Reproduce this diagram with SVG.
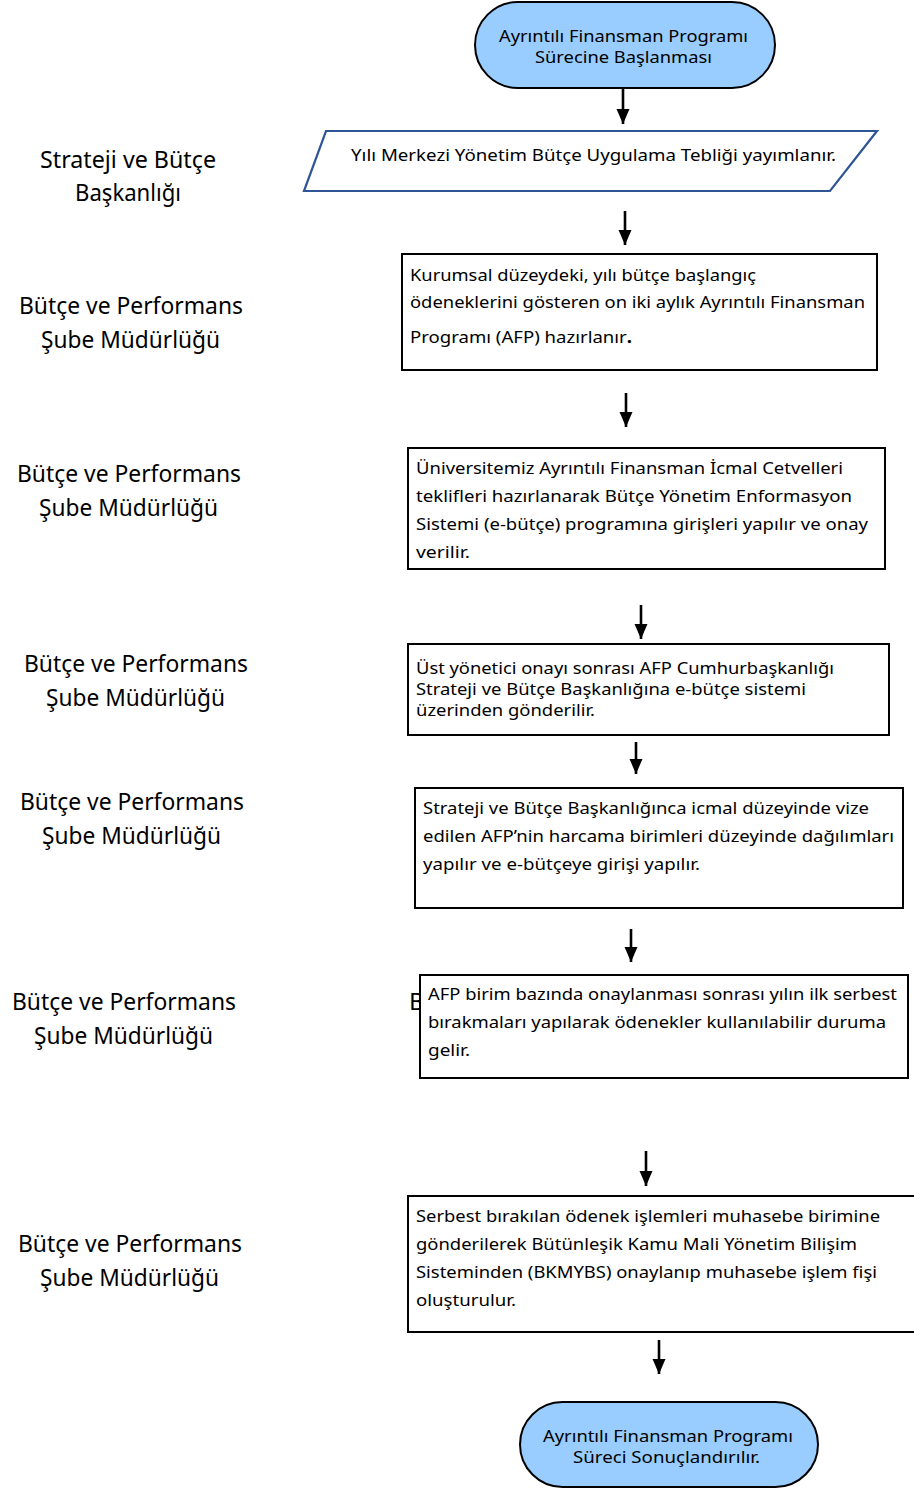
<svg xmlns="http://www.w3.org/2000/svg" width="914" height="1488" viewBox="0 0 914 1488">
<style>
text{font-family:"Noto Sans","Open Sans","Liberation Sans",sans-serif;fill:#000}
.t{font-size:17px}
.lbl{font-size:24px}
.term{fill:#99CCFF;stroke:#000;stroke-width:2}
.box{fill:#fff;stroke:#000;stroke-width:2}
.para{fill:#fff;stroke:#2F5597;stroke-width:2.2}
.c line{stroke:#000;stroke-width:2.6;marker-end:url(#ah)}
</style>
<defs>
<marker id="ah" markerUnits="userSpaceOnUse" markerWidth="15" markerHeight="15" viewBox="0 0 15 15" refX="15" refY="7.5" orient="auto">
<path d="M0,1 L15,7.5 L0,14 Z" fill="#000"/>
</marker>
</defs>
<rect width="914" height="1488" fill="#fff"/>

<g id="labels">
<text class="lbl" x="40" y="168" textLength="176" lengthAdjust="spacingAndGlyphs">Strateji ve Bütçe</text>
<text class="lbl" x="75" y="201" textLength="106" lengthAdjust="spacingAndGlyphs">Başkanlığı</text>
<text class="lbl" x="19" y="314" textLength="224" lengthAdjust="spacingAndGlyphs">Bütçe ve Performans</text>
<text class="lbl" x="41" y="348" textLength="179" lengthAdjust="spacingAndGlyphs">Şube Müdürlüğü</text>
<text class="lbl" x="17" y="482" textLength="224" lengthAdjust="spacingAndGlyphs">Bütçe ve Performans</text>
<text class="lbl" x="39" y="516" textLength="179" lengthAdjust="spacingAndGlyphs">Şube Müdürlüğü</text>
<text class="lbl" x="24" y="672" textLength="224" lengthAdjust="spacingAndGlyphs">Bütçe ve Performans</text>
<text class="lbl" x="46" y="706" textLength="179" lengthAdjust="spacingAndGlyphs">Şube Müdürlüğü</text>
<text class="lbl" x="20" y="810" textLength="224" lengthAdjust="spacingAndGlyphs">Bütçe ve Performans</text>
<text class="lbl" x="42" y="844" textLength="179" lengthAdjust="spacingAndGlyphs">Şube Müdürlüğü</text>
<text class="lbl" x="12" y="1010" textLength="224" lengthAdjust="spacingAndGlyphs">Bütçe ve Performans</text>
<text class="lbl" x="34" y="1044" textLength="179" lengthAdjust="spacingAndGlyphs">Şube Müdürlüğü</text>
<text class="lbl" x="18" y="1252" textLength="224" lengthAdjust="spacingAndGlyphs">Bütçe ve Performans</text>
<text class="lbl" x="40" y="1286" textLength="179" lengthAdjust="spacingAndGlyphs">Şube Müdürlüğü</text>
<text class="lbl" x="409" y="1010">B</text>
</g>

<g class="c" id="connectors">
<line x1="623" y1="88" x2="623" y2="124"/>
<line x1="625" y1="211" x2="625" y2="245"/>
<line x1="626" y1="393" x2="626" y2="427"/>
<line x1="641" y1="605" x2="641" y2="639"/>
<line x1="636" y1="742" x2="636" y2="774"/>
<line x1="631" y1="929" x2="631" y2="962"/>
<line x1="646" y1="1151" x2="646" y2="1186"/>
<line x1="659" y1="1340" x2="659" y2="1374"/>
</g>

<g id="start">
<rect class="term" x="475" y="2" width="300" height="86" rx="43" ry="43"/>
<text class="t" x="499" y="42" textLength="249" lengthAdjust="spacingAndGlyphs">Ayrıntılı Finansman Programı</text>
<text class="t" x="535" y="63" textLength="177" lengthAdjust="spacingAndGlyphs">Sürecine Başlanması</text>
</g>

<g id="tebligi">
<polygon class="para" points="326,131 877,131 830,191 304,191"/>
<text class="t" x="351" y="161" textLength="485" lengthAdjust="spacingAndGlyphs">Yılı Merkezi Yönetim Bütçe Uygulama Tebliği yayımlanır.</text>
</g>

<g id="afp">
<rect class="box" x="402" y="254" width="475" height="116"/>
<text class="t" x="410" y="281" textLength="346" lengthAdjust="spacingAndGlyphs">Kurumsal düzeydeki, yılı bütçe başlangıç</text>
<text class="t" x="410" y="308" textLength="455" lengthAdjust="spacingAndGlyphs">ödeneklerini gösteren on iki aylık Ayrıntılı Finansman</text>
<text class="t" x="410" y="343" textLength="222" lengthAdjust="spacingAndGlyphs">Programı (AFP) hazırlanır<tspan font-weight="bold">.</tspan></text>
</g>

<g id="icmal">
<rect class="box" x="408" y="448" width="477" height="121"/>
<text class="t" x="416" y="474" textLength="427" lengthAdjust="spacingAndGlyphs">Üniversitemiz Ayrıntılı Finansman İcmal Cetvelleri</text>
<text class="t" x="416" y="502" textLength="436" lengthAdjust="spacingAndGlyphs">teklifleri hazırlanarak Bütçe Yönetim Enformasyon</text>
<text class="t" x="416" y="530" textLength="452" lengthAdjust="spacingAndGlyphs">Sistemi (e-bütçe) programına girişleri yapılır ve onay</text>
<text class="t" x="416" y="558" textLength="54" lengthAdjust="spacingAndGlyphs">verilir.</text>
</g>

<g id="onay">
<rect class="box" x="408" y="644" width="481" height="91"/>
<text class="t" x="416" y="674" textLength="418" lengthAdjust="spacingAndGlyphs">Üst yönetici onayı sonrası AFP Cumhurbaşkanlığı</text>
<text class="t" x="416" y="695" textLength="390" lengthAdjust="spacingAndGlyphs">Strateji ve Bütçe Başkanlığına e-bütçe sistemi</text>
<text class="t" x="416" y="716" textLength="179" lengthAdjust="spacingAndGlyphs">üzerinden gönderilir.</text>
</g>

<g id="dagilim">
<rect class="box" x="415" y="788" width="488" height="120"/>
<text class="t" x="423" y="814" textLength="446" lengthAdjust="spacingAndGlyphs">Strateji ve Bütçe Başkanlığınca icmal düzeyinde vize</text>
<text class="t" x="423" y="842" textLength="471" lengthAdjust="spacingAndGlyphs">edilen AFP’nin harcama birimleri düzeyinde dağılımları</text>
<text class="t" x="423" y="870" textLength="277" lengthAdjust="spacingAndGlyphs">yapılır ve e-bütçeye girişi yapılır.</text>
</g>

<g id="serbest">
<rect class="box" x="420" y="975" width="488" height="103"/>
<text class="t" x="428" y="1000" textLength="469" lengthAdjust="spacingAndGlyphs">AFP birim bazında onaylanması sonrası yılın ilk serbest</text>
<text class="t" x="428" y="1028" textLength="458" lengthAdjust="spacingAndGlyphs">bırakmaları yapılarak ödenekler kullanılabilir duruma</text>
<text class="t" x="428" y="1056" textLength="42" lengthAdjust="spacingAndGlyphs">gelir.</text>
</g>

<g id="muhasebe">
<rect class="box" x="408" y="1196" width="520" height="136"/>
<text class="t" x="416" y="1222" textLength="464" lengthAdjust="spacingAndGlyphs">Serbest bırakılan ödenek işlemleri muhasebe birimine</text>
<text class="t" x="416" y="1250" textLength="441" lengthAdjust="spacingAndGlyphs">gönderilerek Bütünleşik Kamu Mali Yönetim Bilişim</text>
<text class="t" x="416" y="1278" textLength="461" lengthAdjust="spacingAndGlyphs">Sisteminden (BKMYBS) onaylanıp muhasebe işlem fişi</text>
<text class="t" x="416" y="1306" textLength="100" lengthAdjust="spacingAndGlyphs">oluşturulur.</text>
</g>

<g id="end">
<rect class="term" x="520" y="1402" width="298" height="85" rx="42.5" ry="42.5"/>
<text class="t" x="543" y="1442" textLength="250" lengthAdjust="spacingAndGlyphs">Ayrıntılı Finansman Programı</text>
<text class="t" x="573" y="1463" textLength="187" lengthAdjust="spacingAndGlyphs">Süreci Sonuçlandırılır.</text>
</g>
</svg>
